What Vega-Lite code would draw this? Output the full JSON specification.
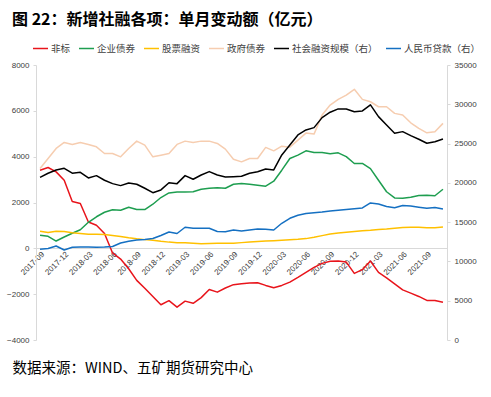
{
  "$schema": "https://vega.github.io/schema/vega-lite/v6.json",
  "width": 411,
  "height": 275,
  "autosize": {"type": "none"},
  "padding": {"left": 36, "top": 65, "right": 44, "bottom": 57},
  "background": "white",
  "config": {"font": "Noto Sans CJK SC", "view": {"stroke": null}},
  "title": {"text": "图 22：新增社融各项：单月变动额（亿元）", "anchor": "start", "frame": "group", "dx": -24, "offset": 12, "fontSize": 16, "fontWeight": "bold", "color": "#000000", "font": "Noto Sans CJK SC"},
  "data": {"values": [
    {"month": "2017-09", "非标": 3410, "企业债券": 568, "股票融资": 743, "政府债券": 3485, "社会融资规模（右）": 20700, "人民币贷款（右）": 11546},
    {"month": "2017-10", "非标": 3528, "企业债券": 525, "股票融资": 686, "政府债券": 3922, "社会融资规模（右）": 21220, "人民币贷款（右）": 11648},
    {"month": "2017-11", "非标": 3336, "企业债券": 319, "股票融资": 743, "政府债券": 4359, "社会融资规模（右）": 21640, "人民币贷款（右）": 11966},
    {"month": "2017-12", "非标": 2973, "企业债券": 494, "股票融资": 730, "政府债券": 4621, "社会融资规模（右）": 21850, "人民币贷款（右）": 11457},
    {"month": "2018-01", "非标": 2040, "企业债券": 656, "股票融资": 678, "政府债券": 4534, "社会融资规模（右）": 21230, "人民币贷款（右）": 11801},
    {"month": "2018-02", "非标": 1954, "企业债券": 809, "股票融资": 643, "政府债券": 4621, "社会融资规模（右）": 21340, "人民币贷款（右）": 11839},
    {"month": "2018-03", "非标": 1150, "企业债券": 1137, "股票融资": 612, "政府债券": 4534, "社会融资规模（右）": 20620, "人民币贷款（右）": 11839},
    {"month": "2018-04", "非标": 1006, "企业债券": 1377, "股票融资": 612, "政府债券": 4429, "社会融资规模（右）": 20920, "人民币贷款（右）": 11813},
    {"month": "2018-05", "非标": 650, "企业债券": 1574, "股票融资": 599, "政府债券": 4140, "社会融资规模（右）": 20330, "人民币贷款（右）": 11839},
    {"month": "2018-06", "非标": -200, "企业债券": 1683, "股票融资": 555, "政府债券": 4140, "社会融资规模（右）": 19900, "人民币贷款（右）": 11902},
    {"month": "2018-07", "非标": -470, "企业债券": 1661, "股票融资": 512, "政府债券": 3992, "社会融资规模（右）": 19650, "人民币贷款（右）": 12348},
    {"month": "2018-08", "非标": -890, "企业债券": 1793, "股票融资": 459, "政府债券": 4359, "社会融资规模（右）": 19990, "人民币贷款（右）": 12564},
    {"month": "2018-09", "非标": -1399, "企业债券": 1692, "股票融资": 415, "政府债券": 4678, "社会融资规模（右）": 19820, "人民币贷款（右）": 12730},
    {"month": "2018-10", "非标": -1740, "企业债券": 1692, "股票融资": 380, "政府债券": 4503, "社会融资规模（右）": 19310, "人民币贷款（右）": 12794},
    {"month": "2018-11", "非标": -2100, "企业债券": 1924, "股票融资": 350, "政府债券": 3992, "社会融资规模（右）": 18750, "人民币贷款（右）": 12921},
    {"month": "2018-12", "非标": -2460, "企业债券": 2217, "股票融资": 306, "政府债券": 4066, "社会融资规模（右）": 19100, "人民币贷款（右）": 13303},
    {"month": "2019-01", "非标": -2285, "企业债券": 2418, "股票融资": 271, "政府债券": 4140, "社会融资规模（右）": 20020, "人民币贷款（右）": 13748},
    {"month": "2019-02", "非标": -2566, "企业债券": 2461, "股票融资": 249, "政府债券": 4534, "社会融资规模（右）": 19900, "人民币贷款（右）": 13558},
    {"month": "2019-03", "非标": -2304, "企业债券": 2461, "股票融资": 240, "政府债券": 4678, "社会融资规模（右）": 20920, "人民币贷款（右）": 14347},
    {"month": "2019-04", "非标": -2400, "企业债券": 2470, "股票融资": 219, "政府债券": 4621, "社会融资规模（右）": 20460, "人民币贷款（右）": 14220},
    {"month": "2019-05", "非标": -2150, "企业债券": 2580, "股票融资": 205, "政府债券": 4678, "社会融资规模（右）": 21000, "人民币贷款（右）": 14220},
    {"month": "2019-06", "非标": -1800, "企业债券": 2623, "股票融资": 210, "政府债券": 4678, "社会融资规模（右）": 21430, "人民币贷款（右）": 14220},
    {"month": "2019-07", "非标": -1911, "企业债券": 2645, "股票融资": 219, "政府债券": 4577, "社会融资规模（右）": 21000, "人民币贷款（右）": 13812},
    {"month": "2019-08", "非标": -1730, "企业债券": 2623, "股票融资": 227, "政府债券": 4328, "社会融资规模（右）": 20750, "人民币贷款（右）": 13786},
    {"month": "2019-09", "非标": -1585, "企业债券": 2798, "股票融资": 219, "政府债券": 3891, "社会融资规模（右）": 20790, "人民币贷款（右）": 14003},
    {"month": "2019-10", "非标": -1543, "企业债券": 2829, "股票融资": 249, "政府债券": 3773, "社会融资规模（右）": 20840, "人民币贷款（右）": 13876},
    {"month": "2019-11", "非标": -1508, "企业债券": 2798, "股票融资": 275, "政府债券": 3922, "社会融资规模（右）": 21220, "人民币贷款（右）": 14003},
    {"month": "2019-12", "非标": -1500, "企业债券": 2754, "股票融资": 297, "政府债券": 3922, "社会融资规模（右）": 21420, "人民币贷款（右）": 14130},
    {"month": "2020-01", "非标": -1618, "企业债券": 2711, "股票融资": 319, "政府债券": 4403, "社会融资规模（右）": 21770, "人民币贷款（右）": 14092},
    {"month": "2020-02", "非标": -1718, "企业债券": 2929, "股票融资": 332, "政府债券": 4254, "社会融资规模（右）": 21640, "人民币贷款（右）": 14003},
    {"month": "2020-03", "非标": -1618, "企业债券": 3410, "股票融资": 350, "政府债券": 4459, "社会融资规模（右）": 23550, "人民币贷款（右）": 14856},
    {"month": "2020-04", "非标": -1473, "企业债券": 3922, "股票融资": 372, "政府债券": 4416, "社会融资规模（右）": 24820, "人民币贷款（右）": 15492},
    {"month": "2020-05", "非标": -1268, "企业债券": 4066, "股票融资": 393, "政府债券": 4722, "社会融资规模（右）": 26100, "人民币贷款（右）": 15874},
    {"month": "2020-06", "非标": -1049, "企业债券": 4254, "股票融资": 424, "政府债券": 5028, "社会融资规模（右）": 26730, "人民币贷款（右）": 16103},
    {"month": "2020-07", "非标": -831, "企业债券": 4184, "股票融资": 481, "政府债券": 4984, "社会融资规模（右）": 27030, "人民币贷款（右）": 16193},
    {"month": "2020-08", "非标": -656, "企业债券": 4184, "股票融资": 555, "政府债券": 5815, "社会融资规模（右）": 28300, "人民币贷款（右）": 16294},
    {"month": "2020-09", "非标": -568, "企业债券": 4132, "股票融资": 621, "政府债券": 6252, "社会融资规模（右）": 28990, "人民币贷款（右）": 16422},
    {"month": "2020-10", "非标": -555, "企业债券": 4166, "股票融资": 665, "政府债券": 6501, "社会融资规模（右）": 29410, "人民币贷款（右）": 16511},
    {"month": "2020-11", "非标": -599, "企业债券": 4000, "股票融资": 700, "政府债券": 6689, "社会融资规模（右）": 29410, "人民币贷款（右）": 16613},
    {"month": "2020-12", "非标": -1093, "企业债券": 3703, "股票融资": 734, "政府债券": 6938, "社会融资规模（右）": 29060, "人民币贷款（右）": 16702},
    {"month": "2021-01", "非标": -931, "企业债券": 3703, "股票融资": 765, "政府债券": 6501, "社会融资规模（右）": 29150, "人民币贷款（右）": 16804},
    {"month": "2021-02", "非标": -555, "企业债券": 3476, "股票融资": 787, "政府债券": 6396, "社会融资规模（右）": 29920, "人民币贷款（右）": 17440},
    {"month": "2021-03", "非标": -1049, "企业债券": 2973, "股票融资": 822, "政府债券": 6178, "社会融资规模（右）": 28430, "人民币贷款（右）": 17313},
    {"month": "2021-04", "非标": -1290, "企业债券": 2470, "股票融资": 844, "政府债券": 6178, "社会融资规模（右）": 27370, "人民币贷款（右）": 16995},
    {"month": "2021-05", "非标": -1552, "企业债券": 2199, "股票融资": 874, "政府债券": 5889, "社会融资规模（右）": 26310, "人民币贷款（右）": 16842},
    {"month": "2021-06", "非标": -1814, "企业债券": 2186, "股票融资": 905, "政府债券": 5815, "社会融资规模（右）": 26520, "人民币贷款（右）": 17122},
    {"month": "2021-07", "非标": -1954, "企业债券": 2230, "股票融资": 918, "政府债券": 5478, "社会融资规模（右）": 26010, "人民币贷款（右）": 17058},
    {"month": "2021-08", "非标": -2099, "企业债券": 2304, "股票融资": 918, "政府债券": 5233, "社会融资规模（右）": 25550, "人民币贷款（右）": 16905},
    {"month": "2021-09", "非标": -2273, "企业债券": 2317, "股票融资": 896, "政府债券": 5041, "社会融资规模（右）": 25040, "人民币贷款（右）": 16765},
    {"month": "2021-10", "非标": -2273, "企业债券": 2295, "股票融资": 896, "政府债券": 5085, "社会融资规模（右）": 25240, "人民币贷款（右）": 16867},
    {"month": "2021-11", "非标": -2348, "企业债券": 2580, "股票融资": 931, "政府债券": 5452, "社会融资规模（右）": 25590, "人民币贷款（右）": 16676}
  ]},
  "layer": [
    {
      "transform": [{"fold": ["非标", "企业债券", "股票融资", "政府债券"], "as": ["series", "value"]}],
      "mark": {"type": "line", "strokeJoin": "round"},
      "encoding": {
        "x": {"field": "month", "type": "ordinal", "sort": null, "scale": {"type": "point", "padding": 0.5},
          "axis": {"values": ["2017-09","2017-12","2018-03","2018-06","2018-09","2018-12","2019-03","2019-06","2019-09","2019-12","2020-03","2020-06","2020-09","2020-12","2021-03","2021-06","2021-09"],
            "labelAngle": -45, "labelAlign": "right", "labelBaseline": "top", "labelFont": "Liberation Sans", "labelFontSize": 8, "labelColor": "#404040", "labelPadding": 2,
            "offset": -92, "domainColor": "#D9D9D9", "ticks": false,
            "title": "数据来源：WIND、五矿期货研究中心", "titleX": -24, "titleY": 124, "titleAlign": "left", "titleBaseline": "alphabetic", "titleAngle": 0,
            "titleFontSize": 14.5, "titleFontWeight": "normal", "titleColor": "#000000", "titleFont": "Noto Sans CJK SC"}},
        "y": {"field": "value", "type": "quantitative", "scale": {"domain": [-4000, 8000], "nice": false, "zero": false},
          "axis": {"values": [-4000, -2000, 0, 2000, 4000, 6000, 8000], "format": "d", "title": null, "grid": false, "labelFont": "Liberation Sans", "labelFontSize": 8, "labelColor": "#404040", "domainColor": "#D9D9D9", "tickColor": "#D9D9D9", "tickSize": 3, "labelPadding": 4}},
        "color": {"field": "series", "type": "nominal",
          "scale": {"domain": ["非标", "企业债券", "股票融资", "政府债券", "社会融资规模（右）", "人民币贷款（右）"], "range": ["#E8141B", "#1E9E50", "#FFC000", "#F6CDB0", "#000000", "#1570C2"]},
          "legend": {"orient": "none", "legendX": -4, "legendY": -25, "direction": "horizontal", "title": null, "symbolType": "stroke", "symbolSize": 225, "labelFontSize": 9.5, "labelColor": "#404040", "columnPadding": 5, "labelOffset": 2, "labelLimit": 200}},
        "strokeWidth": {"field": "series", "type": "nominal",
          "scale": {"domain": ["非标", "企业债券", "股票融资", "政府债券", "社会融资规模（右）", "人民币贷款（右）"], "range": [1.5, 1.5, 1.5, 1.5, 3.2, 3.2]},
          "legend": {"orient": "none", "legendX": -4, "legendY": -25, "direction": "horizontal", "title": null, "symbolType": "stroke", "symbolSize": 225, "labelFontSize": 9.5, "labelColor": "#404040", "columnPadding": 5, "labelOffset": 2, "labelLimit": 200}}
      }
    },
    {
      "transform": [{"fold": ["社会融资规模（右）", "人民币贷款（右）"], "as": ["series", "value"]}],
      "mark": {"type": "line", "strokeJoin": "round"},
      "encoding": {
        "x": {"field": "month", "type": "ordinal", "sort": null, "scale": {"type": "point", "padding": 0.5}},
        "y": {"field": "value", "type": "quantitative", "scale": {"domain": [0, 35000], "nice": false},
          "axis": {"orient": "right", "values": [0, 5000, 10000, 15000, 20000, 25000, 30000, 35000], "format": "d", "title": null, "grid": false, "labelFont": "Liberation Sans", "labelFontSize": 8, "labelColor": "#404040", "domainColor": "#D9D9D9", "tickColor": "#D9D9D9", "tickSize": 3, "labelPadding": 4}},
        "color": {"field": "series", "type": "nominal"},
        "strokeWidth": {"field": "series", "type": "nominal"}
      }
    }
  ],
  "resolve": {"scale": {"y": "independent"}}
}
